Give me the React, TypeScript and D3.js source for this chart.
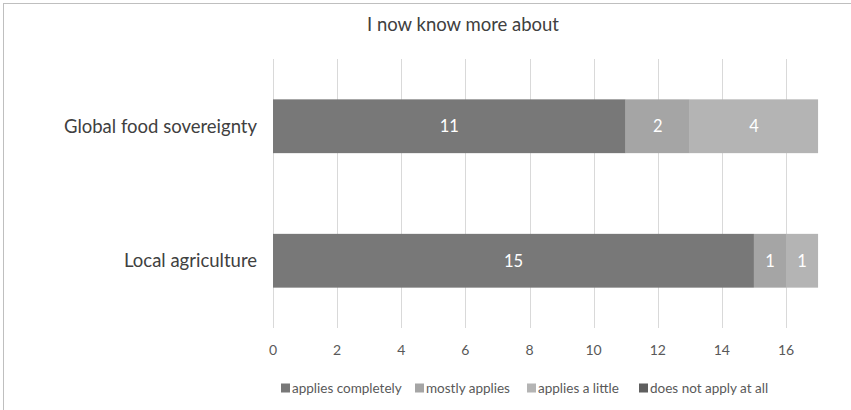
import React from "react";
import * as d3 from "d3";

const categories = ["Global food sovereignty", "Local agriculture"];
const seriesNames = ["applies completely", "mostly applies", "applies a little", "does not apply at all"];
const appliesCompletely = [11, 15];
const mostlyApplies = [2, 1];
const appliesALittle = [4, 1];
const doesNotApply = [0, 0];
const xTicks = [0, 2, 4, 6, 8, 10, 12, 14, 16];
const title = "I now know more about";

const colors = ["#787878", "#a5a5a5", "#b4b4b4", "#5f5f5f"];
const FONT = "Lato, 'Open Sans', sans-serif";

export default function App() {
  const W = 851, H = 410;
  const plot = { left: 273, right: 786, top: 59, bottom: 328 };
  const x = d3.scaleLinear().domain([0, 16]).range([plot.left, plot.right]);
  const y = d3.scaleBand().domain(categories).range([plot.top, plot.bottom]).paddingInner(0.6).paddingOuter(0.3);

  const rows = categories.map((c, i) => ({
    cat: c,
    s0: appliesCompletely[i],
    s1: mostlyApplies[i],
    s2: appliesALittle[i],
    s3: doesNotApply[i],
  }));
  const stack = d3.stack<any>().keys(["s0", "s1", "s2", "s3"])(rows);

  const legendX = [281, 415, 527, 639];

  return (
    <svg width={W} height={H} style={{ position: "absolute", left: 0, top: 0, background: "#fff" }} fontFamily={FONT}>
      <rect x={3.5} y={3.5} width={W + 20} height={H + 20} fill="#fff" stroke="#bfbfbf" strokeWidth={1} />
      <text x={463} y={31} textAnchor="middle" fontSize={18.5} fill="#404040">{title}</text>
      {xTicks.map((t) => (
        <line key={t} x1={Math.round(x(t)) + 0.5} x2={Math.round(x(t)) + 0.5} y1={plot.top} y2={plot.bottom} stroke="#d9d9d9" strokeWidth={1} />
      ))}
      {stack.map((layer, si) =>
        layer.map((d, i) => {
          const w = x(d[1]) - x(d[0]);
          if (w <= 0) return null;
          return (
            <g key={`${si}-${i}`}>
              <rect x={x(d[0])} y={y(categories[i])!} width={w} height={y.bandwidth()} fill={colors[si]} />
              <text x={(x(d[0]) + x(d[1])) / 2} y={y(categories[i])! + y.bandwidth() / 2} dy="0.35em" textAnchor="middle" fontSize={16.5} fill="#ffffff">
                {d[1] - d[0]}
              </text>
            </g>
          );
        })
      )}
      {categories.map((c) => (
        <text key={c} x={plot.left - 16} y={y(c)! + y.bandwidth() / 2} dy="0.35em" textAnchor="end" fontSize={18.5} fill="#404040">
          {c}
        </text>
      ))}
      {xTicks.map((t) => (
        <text key={t} x={x(t)} y={350} dy="0.35em" textAnchor="middle" fontSize={14} fill="#595959">{t}</text>
      ))}
      {seriesNames.map((s, i) => (
        <g key={s}>
          <rect x={legendX[i]} y={383.5} width={9} height={9} fill={colors[i]} />
          <text x={legendX[i] + 11} y={388} dy="0.35em" fontSize={13.5} fill="#595959">{s}</text>
        </g>
      ))}
    </svg>
  );
}
